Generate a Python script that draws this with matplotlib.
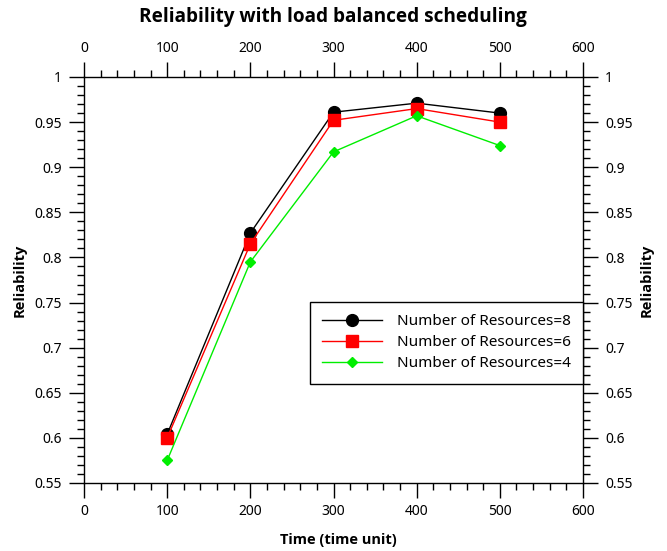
import matplotlib
matplotlib.use("Agg")
import matplotlib.pyplot as plt
from matplotlib.ticker import MultipleLocator

plt.rcParams['font.family'] = ['Noto Sans', 'DejaVu Sans']
BOLD = ['Open Sans', 'Noto Sans', 'DejaVu Sans']

time = [100, 200, 300, 400, 500]
res8 = [0.604, 0.827, 0.961, 0.971, 0.960]
res6 = [0.600, 0.815, 0.952, 0.965, 0.950]
res4 = [0.575, 0.795, 0.917, 0.957, 0.924]
labels = ["Number of Resources=8", "Number of Resources=6", "Number of Resources=4"]

fig = plt.figure(figsize=(6.67, 5.51), dpi=100)
ax = fig.add_axes([84/667, 1-483/551, (583-84)/667, (483-77)/551])

ax.plot(time, res8, color='black', marker='o', markersize=8.5, linewidth=1.0, label=labels[0])
ax.plot(time, res6, color='red', marker='s', markersize=8, linewidth=1.0, label=labels[1])
ax.plot(time, res4, color='#00ee00', marker='D', markersize=5.5, linewidth=1.0, label=labels[2])

ax.set_xlim(0, 600)
ax.set_ylim(0.55, 1.0)
ax.xaxis.set_major_locator(MultipleLocator(100))
ax.xaxis.set_minor_locator(MultipleLocator(20))
ax.yaxis.set_minor_locator(MultipleLocator(0.01))
ax.set_yticks([0.55, 0.6, 0.65, 0.7, 0.75, 0.8, 0.85, 0.9, 0.95, 1.0])
ax.set_yticklabels(['0.55', '0.6', '0.65', '0.7', '0.75', '0.8', '0.85', '0.9', '0.95', '1'])

ax.tick_params(which='both', direction='out', top=True, right=True,
               labeltop=True, labelright=True, labelsize=10, width=1, color='black')
ax.tick_params(which='major', length=11, pad=5)
ax.tick_params(axis='x', which='major', pad=4)
ax.tick_params(which='minor', length=5)
for s in ax.spines.values():
    s.set_linewidth(1)

fig.text(338/667, 1-540/551, "Time (time unit)", ha='center', va='center',
         fontsize=10.5, fontweight='bold', family=BOLD)
fig.text(20/667, 1-280/551, "Reliability", rotation=90, ha='center', va='center',
         fontsize=10.5, fontweight='bold', family=BOLD)
fig.text(647/667, 1-280/551, "Reliability", rotation=90, ha='center', va='center',
         fontsize=10.5, fontweight='bold', family=BOLD)
fig.text(333/667, 1-17/551, "Reliability with load balanced scheduling", ha='center', va='center',
         fontsize=13.7, fontweight='bold', family=BOLD)

leg = ax.legend(loc='upper right', bbox_to_anchor=(1.0, (483-302)/406), fontsize=11,
                fancybox=False, framealpha=1, edgecolor='black', handlelength=3.9,
                borderpad=0.8, labelspacing=0.4, handletextpad=1.0, borderaxespad=0)
leg.get_frame().set_linewidth(1)

fig.savefig("out.png", dpi=100)
